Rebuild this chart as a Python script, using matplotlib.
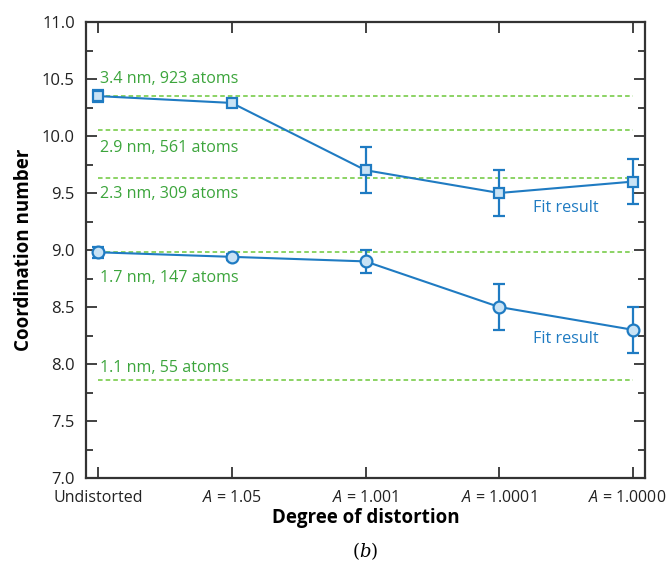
import matplotlib
matplotlib.use("Agg")
import matplotlib.pyplot as plt
import matplotlib.transforms as mtransforms
from matplotlib.ticker import MultipleLocator, FormatStrFormatter

plt.rcParams['font.family'] = ['Open Sans', 'DejaVu Sans']
plt.rcParams['mathtext.fontset'] = 'custom'
plt.rcParams['mathtext.rm'] = 'Open Sans'
plt.rcParams['mathtext.it'] = 'Open Sans:italic'

categories = ['Undistorted', r'$\mathit{A}$ = 1.05', r'$\mathit{A}$ = 1.001',
              r'$\mathit{A}$ = 1.0001', r'$\mathit{A}$ = 1.0000']
square_vals = [10.35, 10.29, 9.70, 9.50, 9.60]
square_err = [0.05, 0.025, 0.20, 0.20, 0.20]
circle_vals = [8.98, 8.94, 8.90, 8.50, 8.30]
circle_err = [0.05, 0.025, 0.10, 0.20, 0.20]
ref_vals = [10.35, 10.05, 9.63, 8.98, 7.86]
ref_labels = ['3.4 nm, 923 atoms', '2.9 nm, 561 atoms', '2.3 nm, 309 atoms',
              '1.7 nm, 147 atoms', '1.1 nm, 55 atoms']

# label baseline offsets from their reference line (layout, in data units)
ref_label_offsets = [0.114, -0.193, -0.175, -0.263, 0.07]

blue = '#1f7bc2'
fill = '#c9e3f5'
green_line = '#6cc83a'
green_text = '#3ca53c'
frame = '#333333'

fig = plt.figure(figsize=(6.69, 5.62), dpi=100)
ax = fig.add_axes([86/669, 1-478/562, (645-86)/669, (478-22)/562])

x = list(range(len(categories)))

for v, lab, off in zip(ref_vals, ref_labels, ref_label_offsets):
    ax.plot([x[0], x[-1]], [v, v], ls=(0, (3, 2)), color=green_line, lw=1.1, zorder=1)
    ax.text(0.015, v + off, lab, color=green_text, fontsize=11.6, ha='left', va='baseline')

ax.errorbar(x, square_vals, yerr=square_err, color=blue, lw=1.5, marker='s', ms=7,
            mfc=fill, mec=blue, mew=1.6, capsize=4, capthick=1.6, elinewidth=1.6, zorder=3)
ax.errorbar(x, circle_vals, yerr=circle_err, color=blue, lw=1.5, marker='o', ms=8.5,
            mfc=fill, mec=blue, mew=1.6, capsize=4, capthick=1.6, elinewidth=1.6, zorder=3)

ax.text(3.252, 9.333, 'Fit result', color=blue, fontsize=11.6, ha='left', va='baseline')
ax.text(3.252, 8.184, 'Fit result', color=blue, fontsize=11.6, ha='left', va='baseline')

ax.set_xlim(-0.09, 4.09)
ax.set_ylim(7.0, 11.0)
ax.set_xticks(x)
ax.set_xticklabels(categories, fontsize=11.5)
ax.yaxis.set_major_locator(MultipleLocator(0.5))
ax.yaxis.set_minor_locator(MultipleLocator(0.25))
ax.yaxis.set_major_formatter(FormatStrFormatter('%.1f'))
ax.tick_params(axis='y', labelsize=12)

ax.tick_params(which='major', direction='in', length=8, width=1.3, color=frame,
               top=True, right=True, labelcolor='#222222')
ax.tick_params(which='minor', direction='in', length=5, width=1.3, color=frame,
               right=True)
ax.tick_params(axis='x', which='minor', bottom=False, top=False)
ax.tick_params(axis='x', pad=9)
ax.tick_params(axis='y', pad=8)
for s in ax.spines.values():
    s.set_linewidth(1.6)
    s.set_color(frame)

# nudge the last category label left so it stays inside the figure
last = ax.get_xticklabels()[-1]
last.set_transform(last.get_transform() +
                   mtransforms.ScaledTranslation(-6/100, 0, fig.dpi_scale_trans))

ax.set_ylabel('Coordination number', fontsize=13.5, fontweight='bold', labelpad=6)
ax.set_xlabel('Degree of distortion', fontsize=13.5, fontweight='bold', labelpad=1)

fig.text(365/669, 1-551/562, r'$(b)$', fontsize=13, ha='center', va='center',
         math_fontfamily='dejavuserif')

fig.savefig('out.png', dpi=100)
